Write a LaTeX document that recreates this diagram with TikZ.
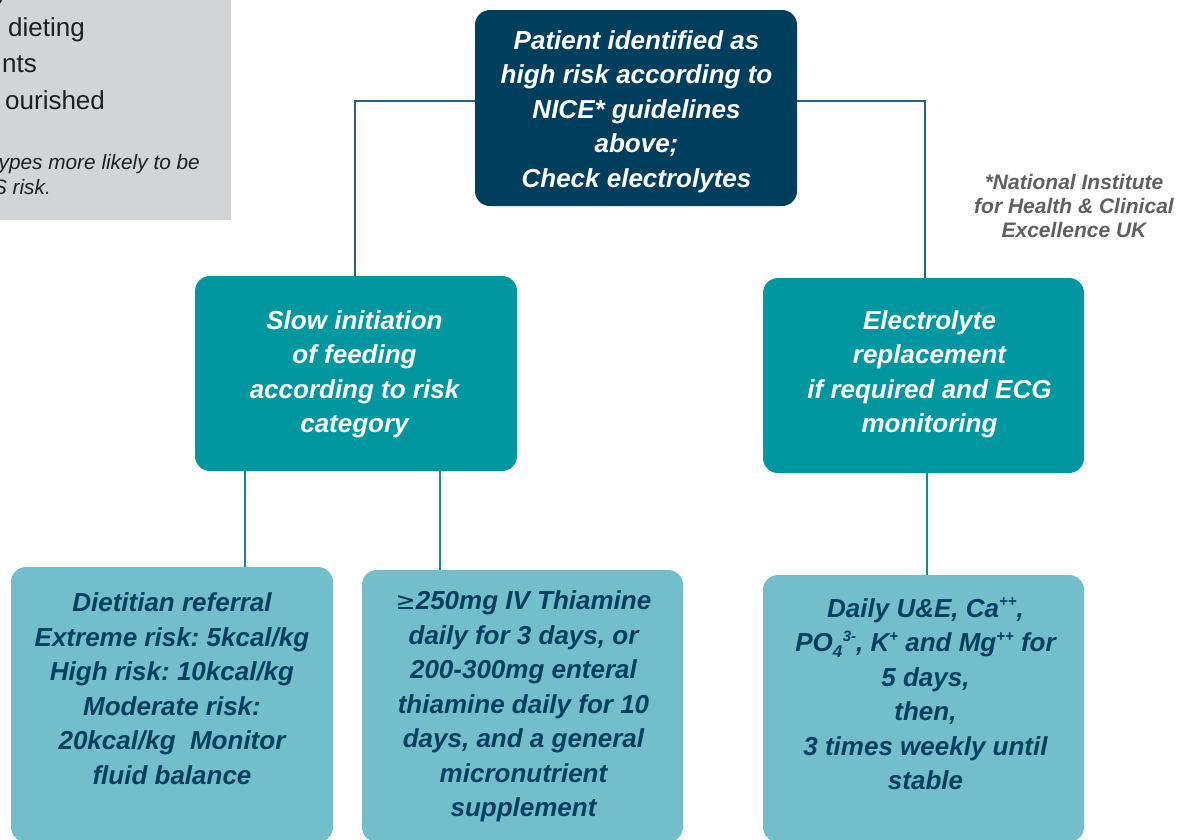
\documentclass[tikz,border=0pt]{standalone}
\usepackage{fontspec}
\setmainfont{Liberation Sans}
\frenchspacing
\definecolor{navy}{RGB}{0,62,94}
\definecolor{teal}{RGB}{0,151,161}
\definecolor{lteal}{RGB}{114,191,203}
\definecolor{graybg}{RGB}{211,212,214}
\definecolor{notegray}{RGB}{95,95,97}
\definecolor{lineA}{RGB}{45,95,125}
\definecolor{lineB}{RGB}{25,135,150}
\newcommand{\supp}[1]{\raisebox{0.42em}{\fontsize{15}{15}\selectfont #1}}
\newcommand{\subb}[1]{\raisebox{-0.2em}{\fontsize{17}{17}\selectfont #1}}
\begin{document}
\begin{tikzpicture}[x=1pt,y=-1pt,
  box/.style={rectangle,rounded corners=15pt,inner sep=0pt,draw=none},
  topbox/.style={box,fill=navy},
  midbox/.style={box,fill=teal},
  lowbox/.style={box,fill=lteal},
  boxtext/.style={align=center,inner sep=0pt,font=\bfseries\itshape\fontsize{26}{34.5}\selectfont},
  wtext/.style={boxtext,text=white},
  ntext/.style={boxtext,text=navy},
  conA/.style={draw=lineA,line width=1.4pt},
  conB/.style={draw=lineB,line width=1.4pt},
  graytext/.style={inner sep=0pt,text=black!88,font=\fontsize{26}{36.5}\selectfont},
  grayital/.style={inner sep=0pt,text=black!88,font=\itshape\fontsize{20.8}{25}\selectfont}
]
\clip (0,0) rectangle (1189,839);
\fill[white] (0,0) rectangle (1189,839);

% grey side panel (cut off)
\node[rectangle,fill=graybg,inner sep=0pt,minimum width=231pt,minimum height=220pt,anchor=north west] (panel) at (0,0) {};
\node[graytext,anchor=base east] (p1) at (4,-0.5) {g};
\node[graytext,anchor=base west] (p2) at (8,36) {dieting};
\node[graytext,anchor=base west] (p3) at (2,72.5) {nts};
\node[graytext,anchor=base west] (p4) at (5,109) {ourished};
\node[grayital,anchor=base east] (p5) at (200,169) {ypes more likely to be};
\node[grayital,anchor=base east] (p6) at (51,194) {S risk.};

% boxes
\node[topbox,minimum width=322pt,minimum height=196pt] (top) at (636,108) {};
\node[wtext] (toptxt) at (636.5,111.5) {Patient identified as\\high risk according to\\NICE* guidelines\\above;\\Check electrolytes};

\node[midbox,minimum width=322pt,minimum height=195pt] (lm) at (356,373.5) {};
\node[wtext] (lmtxt) at (354.5,374.5) {Slow initiation\\of feeding\\according to risk\\category};

\node[midbox,minimum width=321pt,minimum height=195pt] (rm) at (923.5,375.5) {};
\node[wtext] (rmtxt) at (929.5,374.5) {Electrolyte\\replacement\\if required and ECG\\monitoring};

\node[lowbox,minimum width=322pt,minimum height=275pt] (bl) at (172,704.5) {};
\node[ntext] (bltxt) at (172,688.5) {Dietitian referral\\Extreme risk: 5kcal/kg\\High risk: 10kcal/kg\\Moderate risk:\\20kcal/kg\ \ Monitor\\fluid balance};

\node[lowbox,minimum width=321pt,minimum height=272pt] (bm) at (522.5,706) {};
\node[ntext] (bmtxt) at (523.5,706.5) {{\fontspec{DejaVu Sans}\mdseries\upshape\fontsize{24}{34.5}\selectfont ≥}250mg IV Thiamine\\daily for 3 days, or\\200-300mg enteral\\thiamine daily for 10\\days, and a general\\micronutrient\\supplement};

\node[lowbox,minimum width=321pt,minimum height=267pt] (br) at (923.5,708.5) {};
\node[ntext] (brtxt) at (925.5,694) {Daily U\&E, Ca\supp{++},\\PO\subb{4}\hspace{0.02em}\supp{3-}, K\supp{+} and Mg\supp{++} for\\5 days,\\then,\\3 times weekly until\\stable};

% footnote
\node[align=center,inner sep=0pt,text=notegray,font=\bfseries\itshape\fontsize{21}{24}\selectfont] (note) at (1074,206) {*National Institute\\for Health \& Clinical\\Excellence UK};

% connectors
\draw[conA] ([yshift=7pt]top.west) -| (lm.north -| 355,0);
\draw[conA] ([yshift=7pt]top.east) -| (rm.north -| 925,0);
\draw[conB] (lm.south -| 245,0) -- (bl.north -| 245,0);
\draw[conB] (lm.south -| 440,0) -- (bm.north -| 440,0);
\draw[conB] (rm.south -| 927,0) -- (br.north -| 927,0);
\end{tikzpicture}
\end{document}
